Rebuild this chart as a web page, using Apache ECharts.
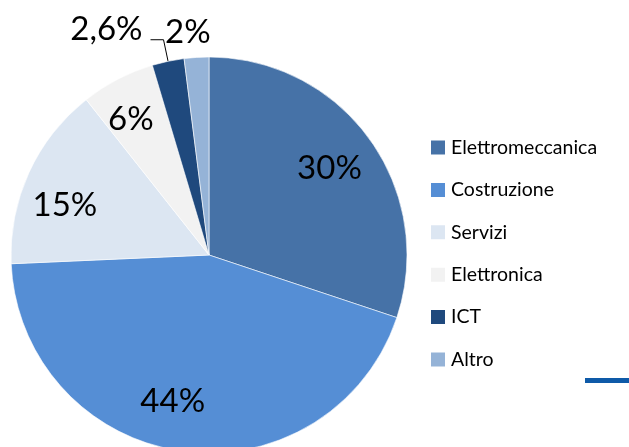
<!DOCTYPE html>
<html>
<head>
<meta charset="utf-8">
<script src="https://cdn.jsdelivr.net/npm/echarts@6/dist/echarts.min.js"></script>
<style>
  html, body { margin: 0; padding: 0; background: #fff; }
  #chart { width: 629px; height: 447px; }
</style>
</head>
<body>
<div id="chart"></div>
<script>
// settori
const categories = ["Elettromeccanica", "Costruzione", "Servizi", "Elettronica", "ICT", "Altro"];
const values = [30, 44, 15, 6, 2.6, 2];
const valueLabels = ["30%", "44%", "15%", "6%", "2,6%", "2%"];
const colors = ["#4672A7", "#558ED5", "#DCE6F2", "#F2F2F2", "#1F497D", "#95B3D7"];

const CX = 209, CY = 255, R = 198;
const FONT = "Lato, 'Open Sans', sans-serif";

const chart = echarts.init(document.getElementById("chart"));

// posizione etichette come in Excel: raggio relativo e piccola rotazione (gradi)
const labelRadius = [0.75, 0.76, 0.77, 0.79, null, 1.13];
const labelTurn = [0, -6, 5.5, 2.5, 0, 1.8];

const pieData = categories.map((name, i) => {
  const item = {
    name: name,
    value: values[i],
    itemStyle: { color: colors[i] },
  };
  if (i === 4) {
    item.label = {
      position: "outside",
      distanceToLabelLine: 5,
    };
    item.labelLine = { show: true, length: 22, length2: 13 };
  }
  return item;
});

const options = {
  animation: false,
  legend: {
    orient: "vertical",
    left: 429,
    top: 137.5,
    padding: 0,
    icon: "rect",
    itemWidth: 16,
    itemHeight: 16,
    itemGap: 22.4,
    textStyle: { fontFamily: FONT, fontSize: 19.5, lineHeight: 20, color: "#000" },
    data: categories,
  },
  graphic: [
    {
      type: "rect",
      left: 585,
      top: 378,
      shape: { width: 44, height: 5 },
      style: { fill: "#0E5AA8" },
    },
  ],
  series: [
    {
      type: "pie",
      center: [CX, CY],
      radius: R,
      startAngle: 90,
      clockwise: true,
      avoidLabelOverlap: false,
      itemStyle: { borderColor: "#ffffff", borderWidth: 0.6 },
      label: {
        show: true,
        position: "inside",
        fontFamily: FONT,
        fontSize: 33,
        color: "#000",
        formatter: (p) => valueLabels[p.dataIndex],
      },
      labelLine: { show: false, lineStyle: { color: "#000", width: 1 } },
      labelLayout: (p) => {
        if (p.dataIndex === 4) return { dx: -3, dy: -10 };
        const r = p.labelRect;
        const lx = r.x + r.width / 2 - CX;
        const ly = r.y + r.height / 2 - CY;
        const a = Math.atan2(ly, lx) - labelTurn[p.dataIndex] * Math.PI / 180;
        const rr = labelRadius[p.dataIndex] * R;
        return {
          x: CX + rr * Math.cos(a),
          y: CY + rr * Math.sin(a),
          align: "center",
          verticalAlign: "middle",
        };
      },
      emphasis: { disabled: true },
      data: pieData,
    },
  ],
};

chart.setOption(options);
</script>
</body>
</html>
